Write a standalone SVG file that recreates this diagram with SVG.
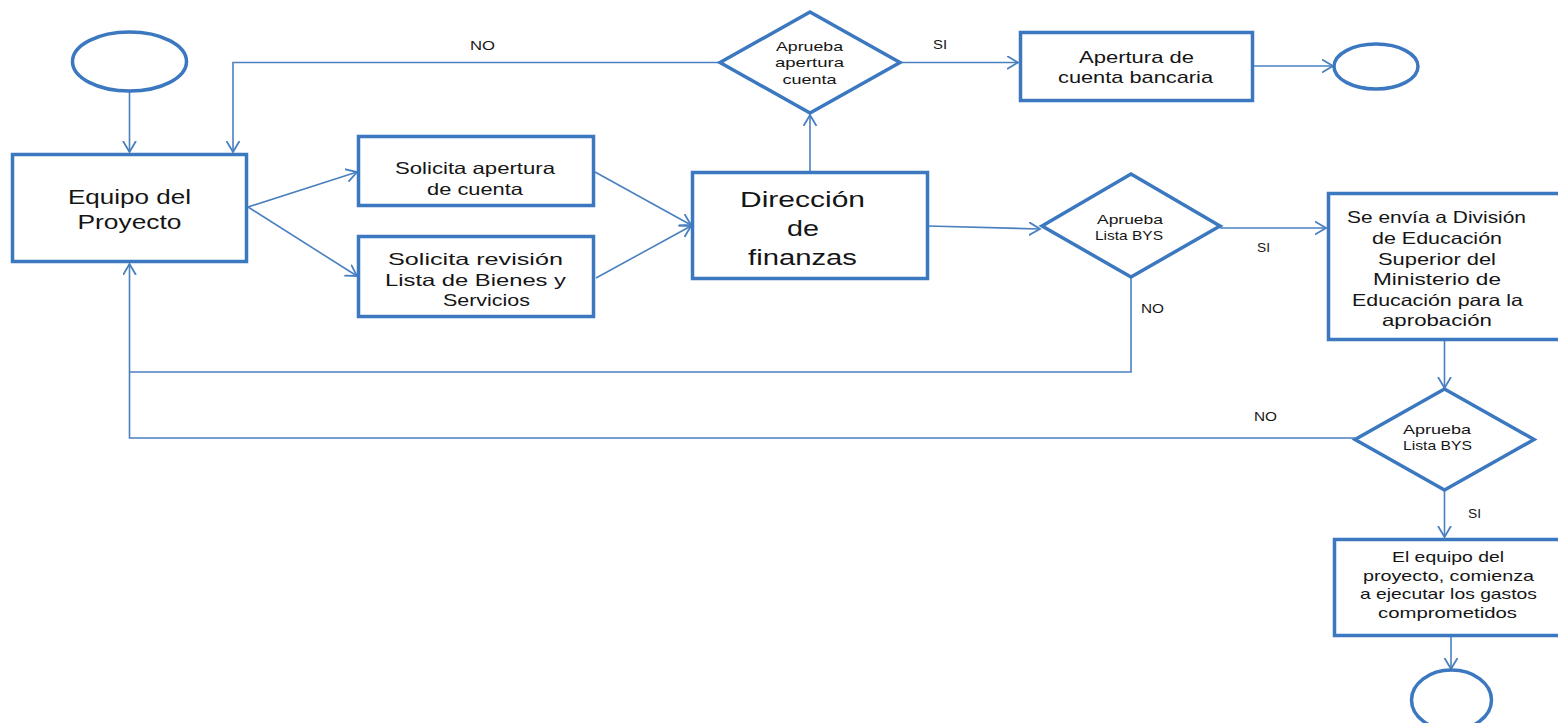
<svg xmlns="http://www.w3.org/2000/svg" width="1558" height="723" viewBox="0 0 1558 723">
<style>
.box{fill:#fff;stroke:#3b78c0;stroke-width:3.5}
.term{fill:#fff;stroke:#3b78c0;stroke-width:3.5}
.con{fill:none;stroke:#4a80c0;stroke-width:1.6}
text{font-family:"Liberation Sans","Open Sans",sans-serif;fill:#151515;text-anchor:middle}
.lbl{font-size:12px}
.dt{font-size:13.5px}
</style>
<defs>
<marker id="ah" markerUnits="userSpaceOnUse" markerWidth="14" markerHeight="16" refX="11" refY="7" orient="auto">
<path d="M0,0.5 L11,7 L0,13.5" fill="none" stroke="#4a80c0" stroke-width="1.8"/>
</marker>
</defs>
<rect width="1558" height="723" fill="#fff"/>
<g id="connectors">
<path class="con" d="M129.5,91 V152" marker-end="url(#ah)"/>
<path class="con" d="M248,207 L357,172" marker-end="url(#ah)"/>
<path class="con" d="M248,207 L357,276" marker-end="url(#ah)"/>
<path class="con" d="M595,172 L691,225" marker-end="url(#ah)"/>
<path class="con" d="M596,278 L691,226" marker-end="url(#ah)"/>
<path class="con" d="M810,172 V115" marker-end="url(#ah)"/>
<path class="con" d="M720,62.5 H233 V152" marker-end="url(#ah)"/>
<path class="con" d="M900,62.5 H1018" marker-end="url(#ah)"/>
<path class="con" d="M1253,66 H1333" marker-end="url(#ah)"/>
<path class="con" d="M928,226 L1040,229" marker-end="url(#ah)"/>
<path class="con" d="M1220,228 H1326" marker-end="url(#ah)"/>
<path class="con" d="M1131,277 V372 H129.5"/>
<path class="con" d="M1355,438 H129.5 V264" marker-end="url(#ah)"/>
<path class="con" d="M1444.5,340 V388" marker-end="url(#ah)"/>
<path class="con" d="M1444.5,491 V537" marker-end="url(#ah)"/>
<path class="con" d="M1451,636 V669" marker-end="url(#ah)"/>
<text class="lbl" x="482.5" y="50" textLength="25" lengthAdjust="spacingAndGlyphs">NO</text>
<text class="lbl" x="940" y="49" textLength="14" lengthAdjust="spacingAndGlyphs">SI</text>
<text class="lbl" x="1263.5" y="252" textLength="13" lengthAdjust="spacingAndGlyphs">SI</text>
<text class="lbl" x="1152.5" y="313" textLength="23" lengthAdjust="spacingAndGlyphs">NO</text>
<text class="lbl" x="1265.5" y="421" textLength="23" lengthAdjust="spacingAndGlyphs">NO</text>
<text class="lbl" x="1474.5" y="518" textLength="13" lengthAdjust="spacingAndGlyphs">SI</text>
</g>
<g id="start">
<ellipse class="term" cx="129.5" cy="61.5" rx="57" ry="29.5"/>
</g>
<g id="equipo">
<rect class="box" x="12.5" y="154.5" width="234" height="107"/>
<text x="129.5" y="204" font-size="21" textLength="123" lengthAdjust="spacingAndGlyphs">Equipo del</text>
<text x="129.5" y="229" font-size="21" textLength="104" lengthAdjust="spacingAndGlyphs">Proyecto</text>
</g>
<g id="sol-apertura">
<rect class="box" x="358.5" y="136.5" width="235" height="69"/>
<text x="475" y="174" font-size="16.5" textLength="160" lengthAdjust="spacingAndGlyphs">Solicita apertura</text>
<text x="475" y="195" font-size="16.5" textLength="96" lengthAdjust="spacingAndGlyphs">de cuenta</text>
</g>
<g id="sol-revision">
<rect class="box" x="358.5" y="236.5" width="235" height="80"/>
<text x="475.5" y="265" font-size="16.5" textLength="175" lengthAdjust="spacingAndGlyphs">Solicita revisión</text>
<text x="475.5" y="286" font-size="16.5" textLength="181" lengthAdjust="spacingAndGlyphs">Lista de Bienes y</text>
<text x="486.5" y="306" font-size="16.5" textLength="87" lengthAdjust="spacingAndGlyphs">Servicios</text>
</g>
<g id="direccion">
<rect class="box" x="692.5" y="172.5" width="235" height="106"/>
<text x="802.5" y="207" font-size="22" textLength="125" lengthAdjust="spacingAndGlyphs">Dirección</text>
<text x="803" y="236" font-size="22" textLength="32" lengthAdjust="spacingAndGlyphs">de</text>
<text x="802.5" y="265" font-size="22" textLength="109" lengthAdjust="spacingAndGlyphs">finanzas</text>
</g>
<g id="dec-apertura">
<polygon class="box" points="810,12 900,62.5 810,113 720,62.5"/>
<text class="dt" x="809.5" y="51" textLength="67" lengthAdjust="spacingAndGlyphs">Aprueba</text>
<text class="dt" x="809.5" y="67" textLength="69" lengthAdjust="spacingAndGlyphs">apertura</text>
<text class="dt" x="809.5" y="84" textLength="54" lengthAdjust="spacingAndGlyphs">cuenta</text>
</g>
<g id="apertura-cuenta">
<rect class="box" x="1020.5" y="32.5" width="232" height="68"/>
<text x="1136.5" y="63" font-size="17" textLength="115" lengthAdjust="spacingAndGlyphs">Apertura de</text>
<text x="1135.5" y="83" font-size="17" textLength="155" lengthAdjust="spacingAndGlyphs">cuenta bancaria</text>
</g>
<g id="end1">
<ellipse class="term" cx="1376" cy="66.5" rx="42" ry="22.5"/>
</g>
<g id="dec-bys1">
<polygon class="box" points="1131,174 1220,226 1131,277 1042,226"/>
<text class="dt" x="1130" y="224" textLength="66" lengthAdjust="spacingAndGlyphs">Aprueba</text>
<text class="dt" x="1129" y="240" textLength="68" lengthAdjust="spacingAndGlyphs">Lista BYS</text>
</g>
<g id="envia">
<rect class="box" x="1328.5" y="193.5" width="232" height="146"/>
<text x="1436.5" y="223" font-size="16.5" textLength="179" lengthAdjust="spacingAndGlyphs">Se envía a División</text>
<text x="1437" y="244" font-size="16.5" textLength="130" lengthAdjust="spacingAndGlyphs">de Educación</text>
<text x="1437" y="265" font-size="16.5" textLength="118" lengthAdjust="spacingAndGlyphs">Superior del</text>
<text x="1437" y="285" font-size="16.5" textLength="128" lengthAdjust="spacingAndGlyphs">Ministerio de</text>
<text x="1437.5" y="306" font-size="16.5" textLength="171" lengthAdjust="spacingAndGlyphs">Educación para la</text>
<text x="1437" y="326" font-size="16.5" textLength="110" lengthAdjust="spacingAndGlyphs">aprobación</text>
</g>
<g id="dec-bys2">
<polygon class="box" points="1444.5,389 1534,439.5 1444.5,490 1355,439.5"/>
<text class="dt" x="1437" y="434" textLength="68" lengthAdjust="spacingAndGlyphs">Aprueba</text>
<text class="dt" x="1437.5" y="450" textLength="69" lengthAdjust="spacingAndGlyphs">Lista BYS</text>
</g>
<g id="ejecutar">
<rect class="box" x="1334.5" y="539.5" width="226" height="96"/>
<text x="1448" y="562" font-size="15" textLength="112" lengthAdjust="spacingAndGlyphs">El equipo del</text>
<text x="1448.5" y="580.5" font-size="15" textLength="171" lengthAdjust="spacingAndGlyphs">proyecto, comienza</text>
<text x="1448.5" y="599" font-size="15" textLength="177" lengthAdjust="spacingAndGlyphs">a ejecutar los gastos</text>
<text x="1447.5" y="617.5" font-size="15" textLength="139" lengthAdjust="spacingAndGlyphs">comprometidos</text>
</g>
<g id="end2">
<ellipse class="term" cx="1451.5" cy="700" rx="40" ry="30"/>
</g>
</svg>
